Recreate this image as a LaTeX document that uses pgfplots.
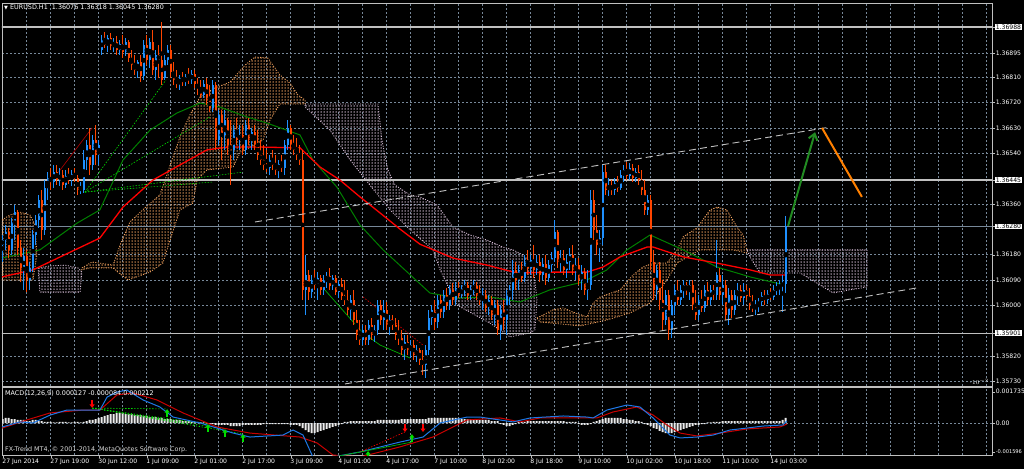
\documentclass[border=0pt]{standalone}
\usepackage{pgfplots}
\pgfplotsset{compat=1.18}
\usepackage{pgfplotstable}
\usepackage{fontspec}
\setmainfont{DejaVu Sans}
\usetikzlibrary{arrows.meta,patterns.meta}

\definecolor{upc}{RGB}{30,144,255}
\definecolor{dnc}{RGB}{255,69,0}
\definecolor{sandy}{RGB}{244,164,96}
\definecolor{thist}{RGB}{216,191,216}
\definecolor{gridc}{RGB}{119,136,153}
\definecolor{silverc}{RGB}{192,192,192}
\definecolor{maG}{RGB}{0,128,0}
\definecolor{arrG}{RGB}{34,139,34}
\definecolor{macdB}{RGB}{30,120,230}
\definecolor{macdR}{RGB}{200,0,0}
\definecolor{divG}{RGB}{0,220,0}

\pgfplotstableread{
i o h l c
0 1.36214 1.36250 1.36154 1.36232
1 1.36232 1.36285 1.36197 1.36260
2 1.36260 1.36275 1.36168 1.36197
3 1.36197 1.36310 1.36179 1.36296
4 1.36296 1.36356 1.36232 1.36331
5 1.36331 1.36339 1.36179 1.36204
6 1.36204 1.36232 1.36083 1.36126
7 1.36126 1.36204 1.36055 1.36175
8 1.36175 1.36197 1.36047 1.36090
9 1.36090 1.36154 1.36055 1.36133
10 1.36133 1.36268 1.36118 1.36250
11 1.36250 1.36321 1.36214 1.36303
12 1.36303 1.36392 1.36275 1.36374
13 1.36374 1.36409 1.36232 1.36268
14 1.36268 1.36445 1.36250 1.36417
15 1.36417 1.36473 1.36374 1.36452
16 1.36452 1.36488 1.36409 1.36438
17 1.36438 1.36498 1.36417 1.36473
18 1.36473 1.36498 1.36427 1.36445
19 1.36445 1.36488 1.36424 1.36463
20 1.36463 1.36481 1.36409 1.36427
21 1.36427 1.36481 1.36417 1.36459
22 1.36459 1.36488 1.36431 1.36445
23 1.36445 1.36481 1.36424 1.36466
24 1.36466 1.36488 1.36438 1.36452
25 1.36452 1.36463 1.36392 1.36409
26 1.36409 1.36438 1.36395 1.36417
27 1.36409 1.36552 1.36399 1.36516
28 1.36516 1.36587 1.36481 1.36569
29 1.36569 1.36630 1.36463 1.36498
30 1.36498 1.36605 1.36481 1.36587
31 1.36587 1.36640 1.36498 1.36534
32 1.36534 1.36587 1.36498 1.36569
33 1.36907 1.36960 1.36889 1.36942
34 1.36942 1.36970 1.36914 1.36924
35 1.36924 1.36960 1.36899 1.36949
36 1.36949 1.36967 1.36907 1.36921
37 1.36921 1.36949 1.36899 1.36935
38 1.36935 1.36956 1.36889 1.36907
39 1.36907 1.36942 1.36889 1.36928
40 1.36928 1.36960 1.36878 1.36899
41 1.36899 1.36949 1.36885 1.36935
42 1.36935 1.36942 1.36864 1.36878
43 1.36878 1.36907 1.36836 1.36853
44 1.36853 1.36889 1.36818 1.36836
45 1.36836 1.36871 1.36807 1.36864
46 1.36864 1.36889 1.36793 1.36814
47 1.36814 1.36942 1.36800 1.36924
48 1.36924 1.36960 1.36853 1.36871
49 1.36871 1.36949 1.36843 1.36935
50 1.36935 1.36978 1.36818 1.36836
51 1.36836 1.36907 1.36800 1.36889
52 1.36889 1.36924 1.36807 1.36871
53 1.36871 1.37006 1.36782 1.36800
54 1.36807 1.36889 1.36800 1.36871
55 1.36871 1.36924 1.36853 1.36907
56 1.36907 1.36924 1.36807 1.36828
57 1.36828 1.36864 1.36782 1.36800
58 1.36800 1.36836 1.36772 1.36786
59 1.36786 1.36818 1.36765 1.36807
60 1.36807 1.36828 1.36779 1.36793
61 1.36793 1.36821 1.36779 1.36811
62 1.36811 1.36843 1.36786 1.36800
63 1.36800 1.36836 1.36786 1.36821
64 1.36821 1.36836 1.36772 1.36786
65 1.36786 1.36807 1.36747 1.36772
66 1.36772 1.36800 1.36736 1.36747
67 1.36747 1.36800 1.36736 1.36786
68 1.36786 1.36807 1.36711 1.36729
69 1.36729 1.36782 1.36686 1.36701
70 1.36701 1.36800 1.36686 1.36782
71 1.36782 1.36793 1.36552 1.36587
72 1.36587 1.36694 1.36569 1.36676
73 1.36676 1.36694 1.36516 1.36605
74 1.36605 1.36694 1.36552 1.36658
75 1.36658 1.36665 1.36534 1.36569
76 1.36569 1.36658 1.36427 1.36552
77 1.36552 1.36640 1.36516 1.36622
78 1.36622 1.36665 1.36569 1.36587
79 1.36587 1.36640 1.36552 1.36605
80 1.36605 1.36640 1.36534 1.36552
81 1.36552 1.36658 1.36534 1.36640
82 1.36640 1.36665 1.36569 1.36587
83 1.36587 1.36630 1.36552 1.36615
84 1.36615 1.36640 1.36552 1.36569
85 1.36569 1.36622 1.36516 1.36534
86 1.36534 1.36587 1.36498 1.36516
87 1.36516 1.36569 1.36481 1.36498
88 1.36498 1.36552 1.36473 1.36488
89 1.36488 1.36534 1.36463 1.36516
90 1.36516 1.36552 1.36481 1.36498
91 1.36498 1.36534 1.36463 1.36481
92 1.36481 1.36516 1.36452 1.36502
93 1.36502 1.36534 1.36473 1.36488
94 1.36488 1.36587 1.36463 1.36569
95 1.36569 1.36658 1.36552 1.36630
96 1.36630 1.36640 1.36552 1.36569
97 1.36569 1.36605 1.36534 1.36552
98 1.36552 1.36594 1.36516 1.36534
99 1.36534 1.36569 1.36498 1.36516
100 1.36516 1.36552 1.36019 1.36055
101 1.36055 1.36179 1.35966 1.36108
102 1.36108 1.36126 1.36019 1.36047
103 1.36047 1.36108 1.36026 1.36090
104 1.36090 1.36126 1.36055 1.36072
105 1.36072 1.36118 1.36019 1.36097
106 1.36097 1.36108 1.36037 1.36055
107 1.36055 1.36108 1.36037 1.36090
108 1.36090 1.36118 1.36062 1.36104
109 1.36104 1.36133 1.36055 1.36069
110 1.36069 1.36108 1.36055 1.36097
111 1.36097 1.36108 1.36037 1.36047
112 1.36047 1.36090 1.36026 1.36076
113 1.36076 1.36097 1.36019 1.36033
114 1.36033 1.36090 1.36001 1.36019
115 1.36019 1.36055 1.35966 1.35984
116 1.35984 1.36037 1.35948 1.36019
117 1.36019 1.36055 1.35930 1.35948
118 1.35948 1.35984 1.35877 1.35895
119 1.35895 1.35948 1.35859 1.35877
120 1.35877 1.35930 1.35859 1.35913
121 1.35913 1.35930 1.35859 1.35877
122 1.35877 1.35948 1.35859 1.35930
123 1.35930 1.35955 1.35877 1.35895
124 1.35895 1.35930 1.35870 1.35913
125 1.35913 1.36019 1.35895 1.36001
126 1.36001 1.36019 1.35930 1.35948
127 1.35948 1.36019 1.35913 1.35984
128 1.35984 1.36012 1.35913 1.35930
129 1.35930 1.35966 1.35895 1.35948
130 1.35948 1.35966 1.35913 1.35930
131 1.35930 1.35955 1.35877 1.35895
132 1.35895 1.35948 1.35859 1.35884
133 1.35884 1.35913 1.35824 1.35842
134 1.35842 1.35895 1.35806 1.35870
135 1.35870 1.35895 1.35824 1.35842
136 1.35842 1.35877 1.35813 1.35859
137 1.35859 1.35877 1.35806 1.35824
138 1.35824 1.35859 1.35799 1.35842
139 1.35842 1.35849 1.35788 1.35806
140 1.35806 1.35842 1.35753 1.35788
141 1.35788 1.35859 1.35742 1.35842
142 1.35842 1.35984 1.35824 1.35955
143 1.35955 1.36001 1.35930 1.35984
144 1.35984 1.36019 1.35913 1.35941
145 1.35941 1.36037 1.35920 1.36019
146 1.36019 1.36037 1.35955 1.35976
147 1.35976 1.36055 1.35955 1.36037
148 1.36037 1.36062 1.35984 1.36001
149 1.36001 1.36072 1.35984 1.36055
150 1.36055 1.36079 1.36001 1.36019
151 1.36019 1.36083 1.36001 1.36062
152 1.36062 1.36083 1.36026 1.36040
153 1.36040 1.36072 1.36026 1.36055
154 1.36055 1.36090 1.36033 1.36072
155 1.36072 1.36083 1.36019 1.36037
156 1.36037 1.36072 1.36019 1.36055
157 1.36055 1.36090 1.36037 1.36069
158 1.36069 1.36083 1.36019 1.36033
159 1.36033 1.36072 1.36001 1.36019
160 1.36019 1.36062 1.35984 1.36037
161 1.36037 1.36055 1.35976 1.35991
162 1.35991 1.36037 1.35966 1.36019
163 1.36019 1.36033 1.35948 1.35966
164 1.35966 1.36019 1.35930 1.36001
165 1.36001 1.36019 1.35895 1.35913
166 1.35913 1.36001 1.35877 1.35984
167 1.35984 1.36019 1.35913 1.35948
168 1.35948 1.36055 1.35895 1.36037
169 1.36037 1.36072 1.36001 1.36055
170 1.36055 1.36161 1.36019 1.36126
171 1.36126 1.36154 1.36055 1.36090
172 1.36090 1.36143 1.36055 1.36126
173 1.36126 1.36154 1.36083 1.36097
174 1.36097 1.36179 1.36083 1.36154
175 1.36154 1.36197 1.36108 1.36133
176 1.36133 1.36179 1.36108 1.36161
177 1.36161 1.36214 1.36097 1.36126
178 1.36126 1.36179 1.36108 1.36154
179 1.36154 1.36179 1.36083 1.36108
180 1.36108 1.36168 1.36090 1.36147
181 1.36147 1.36179 1.36072 1.36097
182 1.36097 1.36161 1.36083 1.36143
183 1.36143 1.36189 1.36118 1.36168
184 1.36168 1.36303 1.36154 1.36260
185 1.36260 1.36268 1.36133 1.36154
186 1.36154 1.36197 1.36118 1.36168
187 1.36168 1.36197 1.36108 1.36126
188 1.36126 1.36179 1.36097 1.36154
189 1.36154 1.36204 1.36126 1.36179
190 1.36179 1.36214 1.36108 1.36126
191 1.36126 1.36168 1.36090 1.36143
192 1.36143 1.36168 1.36072 1.36090
193 1.36090 1.36143 1.36055 1.36118
194 1.36118 1.36133 1.36037 1.36055
195 1.36055 1.36126 1.36019 1.36072
196 1.36072 1.36409 1.36055 1.36374
197 1.36374 1.36409 1.36232 1.36268
198 1.36268 1.36321 1.36179 1.36214
199 1.36214 1.36268 1.36154 1.36239
200 1.36239 1.36498 1.36214 1.36473
201 1.36473 1.36498 1.36392 1.36409
202 1.36409 1.36452 1.36388 1.36424
203 1.36424 1.36445 1.36392 1.36409
204 1.36409 1.36452 1.36392 1.36434
205 1.36434 1.36459 1.36402 1.36417
206 1.36417 1.36481 1.36409 1.36463
207 1.36463 1.36498 1.36438 1.36481
208 1.36481 1.36509 1.36445 1.36459
209 1.36459 1.36505 1.36445 1.36488
210 1.36488 1.36502 1.36438 1.36452
211 1.36452 1.36488 1.36438 1.36473
212 1.36473 1.36498 1.36427 1.36445
213 1.36445 1.36481 1.36392 1.36409
214 1.36409 1.36445 1.36321 1.36339
215 1.36339 1.36392 1.36321 1.36374
216 1.36374 1.36392 1.36126 1.36154
217 1.36154 1.36197 1.36019 1.36055
218 1.36055 1.36143 1.36019 1.36126
219 1.36126 1.36154 1.35984 1.36019
220 1.36019 1.36090 1.35913 1.35948
221 1.35948 1.36055 1.35930 1.36037
222 1.36037 1.36055 1.35877 1.35913
223 1.35913 1.36019 1.35884 1.36001
224 1.36001 1.36072 1.35966 1.36055
225 1.36055 1.36090 1.36001 1.36019
226 1.36019 1.36072 1.36001 1.36055
227 1.36055 1.36090 1.36026 1.36072
228 1.36072 1.36083 1.36037 1.36055
229 1.36055 1.36090 1.36019 1.36072
230 1.36072 1.36090 1.35984 1.36001
231 1.36001 1.36055 1.35948 1.35966
232 1.35966 1.36037 1.35948 1.36019
233 1.36019 1.36055 1.35976 1.35991
234 1.35991 1.36072 1.35976 1.36055
235 1.36055 1.36083 1.36001 1.36019
236 1.36019 1.36072 1.36001 1.36055
237 1.36055 1.36072 1.36019 1.36037
238 1.36037 1.36232 1.36019 1.36108
239 1.36108 1.36133 1.36019 1.36037
240 1.36037 1.36108 1.36001 1.36072
241 1.36072 1.36090 1.35948 1.35966
242 1.35966 1.36062 1.35930 1.36037
243 1.36037 1.36055 1.35955 1.35984
244 1.35984 1.36055 1.35966 1.36037
245 1.36037 1.36079 1.36001 1.36055
246 1.36055 1.36072 1.36012 1.36026
247 1.36026 1.36079 1.36001 1.36055
248 1.36055 1.36072 1.36019 1.36033
249 1.36033 1.36062 1.35984 1.36001
250 1.36001 1.36037 1.35976 1.35991
251 1.35991 1.36019 1.35966 1.36001
252 1.36001 1.36026 1.35976 1.36012
253 1.36012 1.36047 1.35998 1.36033
254 1.36033 1.36055 1.36001 1.36019
255 1.36019 1.36055 1.36005 1.36040
256 1.36040 1.36062 1.36019 1.36030
257 1.36030 1.36072 1.36019 1.36055
258 1.36055 1.36083 1.36037 1.36062
259 1.36062 1.36090 1.36037 1.36072
260 1.36072 1.36108 1.35976 1.36076
261 1.36076 1.36318 1.36045 1.36280
}\candles

\pgfplotstableread[row sep=\\]{
v\\
0.00022\\0.00028\\0.00028\\0.00022\\0.00022\\0.00017\\0.00017\\
0.00017\\0.00011\\0.00011\\0.00017\\0.00017\\0.00011\\
0.00011\\0.00006\\0.00006\\0.00006\\0.00003\\0.00003\\0.00006\\
0.00006\\0.00006\\0.00003\\0.00003\\0.00006\\0.00006\\0.00003\\0.00006\\0.00011\\0.00017\\0.00017\\0.00022\\0.00028\\
0.00033\\0.00039\\0.00044\\0.0005\\0.0005\\0.00056\\0.00056\\0.00056\\0.0005\\0.0005\\0.0005\\0.00044\\0.00044\\0.00044\\0.00039\\0.00039\\0.00033\\
0.00033\\0.00033\\0.00028\\0.00028\\0.00022\\0.00022\\0.00022\\0.00017\\0.00017\\0.00017\\0.00011\\0.00011\\0.00011\\0.00006\\0.00006\\0.00006\\0.00003\\0.00003\\0\\
-0.00006\\-0.00006\\-0.00011\\-0.00011\\-0.00011\\-0.00011\\-0.00011\\-0.00017\\-0.00017\\-0.00017\\-0.00017\\-0.00011\\-0.00011\\-0.00011\\-0.00011\\-0.00011\\-0.00011\\-0.00011\\-0.00006\\-0.00006\\-0.00006\\-0.00006\\-0.00006\\-0.00006\\-0.00006\\-0.00006\\-0.00006\\-0.00011\\-0.00011\\-0.00011\\-0.00017\\
-0.00028\\-0.00039\\-0.0005\\-0.00056\\-0.00056\\-0.0005\\-0.00044\\
-0.00039\\-0.00033\\-0.00028\\-0.00022\\-0.00017\\-0.00011\\-0.00006\\
0.00006\\0.00006\\0.00011\\0.00011\\0.00011\\0.00011\\0.00011\\0.00011\\0.00011\\0.00011\\0.00011\\0.00017\\0.00017\\
0.00017\\0.00017\\0.00017\\0.00017\\0.00017\\0.00017\\0.00022\\0.00022\\0.00022\\0.00022\\0.00022\\0.00022\\0.00022\\0.00022\\0.00022\\0.00028\\0.00028\\
0.00028\\0.00028\\0.00028\\0.00028\\0.00028\\0.00028\\0.00028\\0.00028\\0.00028\\0.00022\\0.00022\\0.00022\\0.00022\\0.00022\\0.00022\\0.00017\\0.00017\\0.00017\\0.00017\\0.00011\\0.00011\\0.00011\\
-0.00006\\-0.00011\\-0.00017\\-0.00017\\-0.00011\\-0.00006\\
0.00006\\0.00006\\0.00006\\0.00011\\0.00011\\0.00011\\0.00011\\0.00011\\0.00011\\0.00011\\0.00011\\0.00011\\0.00011\\0.00011\\0.00011\\0.00011\\0.00006\\0.00006\\0.00006\\0.00006\\
-0.00006\\-0.00011\\-0.00011\\-0.00011\\-0.00006\\
0.00006\\0.00011\\0.00017\\0.00022\\0.00028\\0.00028\\0.00028\\0.00028\\0.00028\\0.00028\\0.00022\\0.00022\\0.00017\\
0.00017\\0.00011\\0.00011\\0.00006\\
-0.00006\\-0.00011\\-0.00017\\-0.00028\\-0.00033\\-0.00044\\-0.0005\\-0.00056\\-0.00056\\-0.00056\\-0.0005\\-0.00044\\-0.00039\\-0.00033\\-0.00028\\-0.00022\\-0.00017\\-0.00011\\
-0.00011\\-0.00006\\-0.00006\\0.00003\\0.00003\\
0.00006\\0.00006\\0.00006\\0.00011\\0.00011\\0.00011\\0.00011\\0.00011\\0.00011\\0.00011\\0.00011\\0.00011\\0.00011\\0.00011\\0.00011\\0.00011\\0.00011\\0.00011\\0.00011\\0.00011\\0.00011\\0.00011\\0.00011\\0.00017\\
0.00028\\
}\hist

\begin{document}
\begin{tikzpicture}
\useasboundingbox (0,0) rectangle (1024pt,469pt);
\fill[black] (0,0) rectangle (1024pt,469pt);
\pgfplotsset{
  mtbase/.style={scale only axis, width=990pt, xmin=-0.233, xmax=329.77,
    axis line style={draw=silverc, line width=0.8pt},
    tick label style={font=\fontsize{6.1}{7}\selectfont, text=white},
    yticklabel style={inner sep=0.6pt},
    grid style={draw=gridc, dash pattern=on 2pt off 2pt, line width=0.5pt},
    minor grid style={draw=gridc, dash pattern=on 2pt off 2pt, line width=0.5pt},
    /pgf/number format/assume math mode=true,
    tick align=outside, major tick length=3pt, minor tick length=0pt,
    ytick pos=right, yticklabel pos=right,
    y tick style={draw=silverc},
  },
  wick/.style={only marks, mark=none, restrict y to domain=1:2,
    error bars/.cd, y dir=both, y explicit, error mark=none,
    error bar style={line width=0.8pt, draw=#1}},
  body/.style={only marks, mark=none, restrict y to domain=1:2,
    error bars/.cd, y dir=both, y explicit, error mark=none,
    error bar style={line width=2pt, draw=#1}},
  cloudA/.style={pattern={Dots[distance=3pt,radius=0.75pt]}, pattern color=sandy, draw=sandy, line width=0.8pt, dash pattern=on 1pt off 1.5pt},
  cloudB/.style={pattern={Dots[distance=3pt,radius=0.75pt]}, pattern color=thist, draw=thist, line width=0.8pt, dash pattern=on 1pt off 1.5pt},
}
% ---------------- main price panel ----------------
\begin{axis}[mtbase, height=383pt, at={(2pt,83pt)}, anchor=south west,
  ymin=1.357137, ymax=1.370734,
  xtick={0,8,...,328}, xticklabels={}, xmajorgrids, x tick style={draw=none},
  ytick={1.36895,1.36810,1.36720,1.36630,1.36540,1.36360,1.36180,1.36090,1.36000,1.35820,1.35730},
  yticklabels={1.36895,1.36810,1.36720,1.36630,1.36540,1.36360,1.36180,1.36090,1.36000,1.35820,1.35730},
  ymajorgrids,
  extra y ticks={1.36988,1.36445,1.36280,1.35901},
  extra y tick labels={1.36988,1.36445,1.36280,1.35901},
  extra y tick style={grid=none, tick label style={fill=white, text=black, inner sep=0.7pt}},
]
% Ichimoku clouds
\addplot[cloudA] coordinates {(-0.2,1.36303) (2.4,1.36321) (5.8,1.36331) (9.1,1.36321) (10.8,1.36285) (11.4,1.36179) (10.1,1.36090) (-0.2,1.36090)} -- cycle;
\addplot[cloudB] coordinates {(11.8,1.36133) (15.8,1.36140) (20.8,1.36143) (25.1,1.36133) (26.4,1.36118) (25.8,1.36047) (12.4,1.36047)} -- cycle;
\addplot[cloudA] coordinates {(26.4,1.36133) (29.8,1.36154) (36.8,1.36143) (39.1,1.36214) (42.4,1.36296) (47.4,1.36346) (52.4,1.36392) (55.8,1.36498) (59.1,1.36598) (62.4,1.36676) (65.8,1.36740) (70.8,1.36772) (75.8,1.36793) (80.8,1.36853) (84.1,1.36882) (88.4,1.36878) (92.4,1.36818) (95.8,1.36789) (98.4,1.36747) (100.8,1.36729)
 (100.8,1.36715) (95.8,1.36715) (92.4,1.36715) (89.1,1.36658) (86.8,1.36587) (79.1,1.36541) (76.8,1.36491) (68.1,1.36481) (64.8,1.36445) (63.4,1.36363) (59.1,1.36339) (55.8,1.36232) (53.4,1.36150) (49.1,1.36118) (41.8,1.36090) (38.4,1.36118) (36.8,1.36133) (29.1,1.36133) (26.4,1.36126)} -- cycle;
\addplot[cloudB] coordinates {(100.8,1.36715) (125.1,1.36715) (126.4,1.36587) (128.4,1.36481) (130.8,1.36427) (135.8,1.36392) (139.1,1.36385) (144.8,1.36356) (150.1,1.36278) (155.8,1.36250) (161.4,1.36232) (166.8,1.36207) (170.1,1.36197) (173.4,1.36179) (176.8,1.36143) (178.1,1.36019) (177.4,1.35913)
 (175.8,1.35902) (169.1,1.35888) (162.4,1.35937) (151.4,1.36001) (145.8,1.36126) (143.4,1.36197) (135.8,1.36268) (129.1,1.36339) (122.4,1.36427) (115.8,1.36516) (109.1,1.36622) (100.8,1.36704)} -- cycle;
\addplot[cloudA] coordinates {(178.1,1.35955) (183.4,1.35984) (186.8,1.35991) (190.1,1.35976) (194.8,1.35959) (196.8,1.36008) (199.1,1.36030) (205.8,1.36055) (210.1,1.36108) (213.4,1.36136) (216.8,1.36150) (221.4,1.36150) (224.8,1.36197) (226.8,1.36243) (231.4,1.36275) (235.8,1.36339) (238.1,1.36349) (241.4,1.36339) (244.8,1.36278) (246.8,1.36250) (248.1,1.36197)
 (248.1,1.36186) (243.4,1.36197) (232.4,1.36197) (224.8,1.36150) (221.4,1.36090) (215.8,1.36008) (209.1,1.35973) (201.4,1.35948) (196.8,1.35937) (192.4,1.35927) (179.1,1.35941)} -- cycle;
\addplot[cloudB] coordinates {(248.1,1.36197) (288.1,1.36197) (288.1,1.36065) (282.4,1.36055) (276.8,1.36044) (271.4,1.36079) (265.8,1.36115) (252.4,1.36115) (249.1,1.36172)} -- cycle;
% horizontal levels
\addplot[silverc, line width=1.2pt] coordinates {(-1,1.36988) (331,1.36988)};
\addplot[silverc, line width=1.2pt] coordinates {(-1,1.36445) (331,1.36445)};
\addplot[silverc, line width=1.2pt] coordinates {(-1,1.35901) (331,1.35901)};
\addplot[gridc, line width=0.6pt] coordinates {(-1,1.36280) (331,1.36280)};
% moving averages
\addplot[maG, line width=1pt] coordinates {(-0.2,1.36168) (12.4,1.36197) (24.8,1.36292) (32.4,1.36339) (40.1,1.36516) (49.1,1.36622) (58.1,1.36683) (65.8,1.36718) (72.4,1.36704) (81.4,1.36669) (88.1,1.36647) (99.1,1.36605) (103.4,1.36516) (111.4,1.36420) (119.1,1.36285) (126.8,1.36197) (142.4,1.36044) (151.4,1.36026) (162.4,1.36030) (172.4,1.36012) (182.4,1.36055) (193.4,1.36083) (201.4,1.36126) (208.1,1.36197) (215.8,1.36250) (226.8,1.36197) (238.1,1.36136) (249.1,1.36101) (260.8,1.36072)};
\addplot[red, line width=1.3pt] coordinates {(-0.2,1.36101) (10.1,1.36126) (32.4,1.36239) (40.1,1.36349) (50.1,1.36445) (68.1,1.36552) (74.8,1.36562) (85.8,1.36562) (99.1,1.36559) (105.8,1.36491) (112.4,1.36445) (119.1,1.36385) (125.8,1.36328) (132.4,1.36271) (139.1,1.36217) (150.1,1.36168) (161.4,1.36143) (171.4,1.36115) (183.4,1.36118) (194.8,1.36118) (200.1,1.36136) (205.8,1.36172) (214.8,1.36207) (216.8,1.36207) (226.8,1.36172) (238.1,1.36150) (249.1,1.36126) (255.8,1.36108) (260.8,1.36108)};
% divergence lines
\addplot[divG, line width=0.6pt, dash pattern=on 1.5pt off 1.5pt] coordinates {(27.4,1.36402) (54.4,1.36800)};
\addplot[divG, line width=0.6pt, dash pattern=on 1.5pt off 1.5pt] coordinates {(27.4,1.36402) (69.1,1.36669)};
\addplot[divG, line width=0.6pt, dash pattern=on 1.5pt off 1.5pt] coordinates {(27.4,1.36402) (80.1,1.36473)};
\addplot[divG, line width=0.6pt, dash pattern=on 1.5pt off 1.5pt] coordinates {(27.4,1.36402) (70.1,1.36438)};
\addplot[red!70!black, line width=0.6pt] coordinates {(18.6,1.36473) (29.8,1.36630)};
\addplot[divG!80!black, line width=0.7pt] coordinates {(106.8,1.36062) (119.8,1.35905) (125.8,1.35859) (135.8,1.35813)};
\addplot[red!80!black, line width=0.7pt, dash pattern=on 1.5pt off 1.5pt] coordinates {(120.1,1.36030) (140.1,1.35859)};
% candles
\addplot[wick=upc] table[x=i, y expr={\thisrow{c}>\thisrow{o} ? 0.5*(\thisrow{h}+\thisrow{l}) : 0}, y error expr={0.5*(\thisrow{h}-\thisrow{l})}] {\candles};
\addplot[wick=dnc] table[x=i, y expr={\thisrow{c}<\thisrow{o} ? 0.5*(\thisrow{h}+\thisrow{l}) : 0}, y error expr={0.5*(\thisrow{h}-\thisrow{l})}] {\candles};
\addplot[body=upc] table[x=i, y expr={\thisrow{c}>\thisrow{o} ? 0.5*(\thisrow{o}+\thisrow{c}) : 0}, y error expr={0.5*abs(\thisrow{c}-\thisrow{o})}] {\candles};
\addplot[body=dnc] table[x=i, y expr={\thisrow{c}<\thisrow{o} ? 0.5*(\thisrow{o}+\thisrow{c}) : 0}, y error expr={0.5*abs(\thisrow{c}-\thisrow{o})}] {\candles};
% channel
\addplot[silverc, line width=0.9pt, dash pattern=on 7pt off 4pt] coordinates {(84.1,1.36296) (275.8,1.36633)};
\addplot[silverc, line width=0.9pt, dash pattern=on 7pt off 4pt] coordinates {(114.1,1.35721) (304.8,1.36062)};
% forecast arrows
\addplot[arrG, line width=2pt, -{Straight Barb[length=6pt,width=9pt]}] coordinates {(261.8,1.36282) (270.8,1.36615)};
\addplot[orange, line width=2pt] coordinates {(273.1,1.36630) (286.4,1.36385)};
\end{axis}
% ---------------- MACD panel ----------------
\begin{axis}[mtbase, height=68pt, at={(2pt,14pt)}, anchor=south west,
  ymin=-0.001778, ymax=0.002,
  xtick={0,16,...,256},
  xticklabels={27 Jun 2014,27 Jun 19:00,30 Jun 12:00,1 Jul 09:00,2 Jul 01:00,2 Jul 17:00,3 Jul 09:00,4 Jul 01:00,4 Jul 17:00,7 Jul 10:00,8 Jul 02:00,8 Jul 18:00,9 Jul 10:00,10 Jul 02:00,10 Jul 18:00,11 Jul 10:00,14 Jul 03:00},
  minor xtick={8,24,40,56,72,88,104,120,136,152,168,184,200,216,232,248,264,272,280,288,296,304,312,320,328},
  xmajorgrids, xminorgrids, xtick pos=bottom, x tick style={draw=silverc},
  xticklabel style={anchor=north west, xshift=-1.5pt, inner sep=1pt},
  ytick={0}, yticklabels={0.00}, ymajorgrids,
  extra y ticks={0.001735,-0.001596}, extra y tick labels={0.001735,{\fontsize{5.1}{6}\selectfont -0.001596}},
  extra y tick style={grid=none},
]
\addplot[ybar, bar width=2pt, fill=white!85!gray, draw=none] table[x expr=\coordindex, y=v] {\hist};
\addplot[divG, line width=0.6pt, dash pattern=on 1.5pt off 1.5pt] coordinates {(29.8,0.00083) (54.8,0.00078)};
\addplot[divG, line width=0.6pt, dash pattern=on 1.5pt off 1.5pt] coordinates {(29.8,0.00083) (68.4,-0.00006)};
\addplot[divG, line width=0.6pt, dash pattern=on 1.5pt off 1.5pt] coordinates {(29.8,0.00083) (74.1,-0.00033)};
\addplot[divG, line width=0.6pt, dash pattern=on 1.5pt off 1.5pt] coordinates {(29.8,0.00083) (80.1,-0.00061)};
\addplot[macdR, line width=1pt] coordinates {(-0.2,-0.00028) (8.1,0.00017) (15.8,0.00056) (26.8,0.00072) (32.4,0.00072) (38.1,0.00156) (43.4,0.00167) (51.4,0.00128) (60.1,0.00056) (71.4,-0.00022) (82.4,-0.00056) (99.1,-0.00078) (104.8,-0.00111) (110.1,-0.00178) (119.1,-0.00189) (132.4,-0.00133) (143.4,-0.00078) (154.8,0.00017) (165.8,0.00028) (172.4,0.00006) (179.1,0.00028) (192.4,0.00028) (198.1,0.00028) (203.4,0.00061) (211.4,0.00089) (216.8,0.00044) (221.4,-0.00011) (225.8,-0.00056) (231.4,-0.00072) (239.1,-0.00056) (248.1,-0.00033) (259.1,-0.00022) (261.4,-0.00006)};
\addplot[macdB, line width=1pt] coordinates {(-0.2,-0.00022) (5.8,0.00006) (10.1,0) (15.8,0.00044) (21.4,0.00072) (29.1,0.00072) (32.4,0.00072) (34.8,0.00144) (38.1,0.00172) (41.4,0.00183) (46.8,0.00128) (52.4,0.00089) (56.8,0.00033) (65.8,0) (71.4,-0.00028) (76.8,-0.00056) (82.4,-0.00078) (93.4,-0.00067) (96.8,-0.00039) (100.1,-0.00067) (103.4,-0.00189) (110.1,-0.00189) (119.1,-0.00161) (132.4,-0.00106) (140.1,-0.00078) (145.8,0) (154.8,0.00033) (159.1,0.00033) (170.1,0.00006) (175.8,0.00028) (186.8,0.00039) (194.8,0.00033) (196.8,0.00028) (201.4,0.00072) (208.1,0.001) (212.4,0.00089) (216.8,0.00028) (222.4,-0.00067) (225.8,-0.00083) (231.4,-0.00078) (236.8,-0.00067) (242.4,-0.00039) (248.1,-0.00028) (253.4,-0.00017) (260.1,-0.00011) (261.4,0.00011)};
\addplot[red, line width=0.6pt, dash pattern=on 1.5pt off 1.5pt] coordinates {(119.1,-0.00161) (134.1,-0.0005)};
\addplot[divG!80!black, line width=0.7pt] coordinates {(110.1,-0.0019) (136.4,-0.00106)};
\addplot[divG, line width=1.3pt, quiver={u=\thisrow{u},v=\thisrow{v}}, -{Triangle[width=5pt,length=3.5pt]}] table {
x y u v
54.8 0.00033 0 0.00044
68.4 -0.0005 0 0.00044
74.1 -0.00078 0 0.00044
80.1 -0.00106 0 0.00044
121.8 -0.002 0 0.00044
136.4 -0.00106 0 0.00044
};
\addplot[red, line width=1.3pt, quiver={u=\thisrow{u},v=\thisrow{v}}, -{Triangle[width=5pt,length=3.5pt]}] table {
x y u v
29.8 0.00128 0 -0.00044
134.1 -0.00006 0 -0.00044
140.1 -0.00006 0 -0.00044
};
\end{axis}
% texts
\node[anchor=west, text=white, inner sep=0, font=\fontsize{6.4}{7}\selectfont] at (4pt,462pt) {{\fontsize{5}{6}\selectfont ▼}\ EURUSD.H1\ \ 1.36076 1.36318 1.36045 1.36280};
\node[anchor=west, text=white, inner sep=0, font=\fontsize{6.4}{7}\selectfont] at (5pt,76pt) {MACD(12,26,9) 0.000127 -0.000084 0.000212};
\node[anchor=west, text=white!85!black, inner sep=0, font=\fontsize{6.4}{7}\selectfont] at (5pt,19pt) {FX-Trend MT4, © 2001-2014, MetaQuotes Software Corp.};
\end{tikzpicture}
\end{document}
